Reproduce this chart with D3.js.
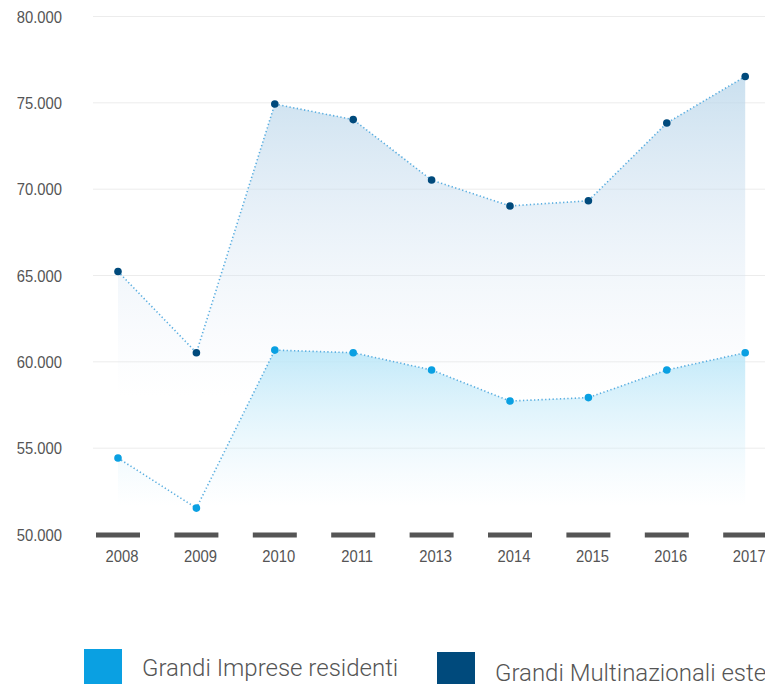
<!DOCTYPE html>
<html>
<head>
<meta charset="utf-8">
<script src="https://cdn.jsdelivr.net/npm/d3@7"></script>
<style>
  body { margin: 0; background: #fff; }
  svg { display: block; font-family: Roboto, "Noto Sans", sans-serif; }
</style>
</head>
<body>
<svg id="chart"></svg>
<script>
var width = 765;
var height = 684;

// data
var years = ["2008", "2009", "2010", "2011", "2013", "2014", "2015", "2016", "2017"];
var residenti = [54400, 51500, 60650, 60500, 59500, 57700, 57900, 59500, 60500];
var multinazionali = [65200, 60500, 74900, 74000, 70500, 69000, 69300, 73800, 76500];
var yTicks = [50000, 55000, 60000, 65000, 70000, 75000, 80000];
var seriesNames = ["Grandi Imprese residenti", "Grandi Multinazionali estere"];
var seriesColors = ["#0aa0e2", "#004a7c"];

var it = d3.formatLocale({ decimal: ",", thousands: ".", grouping: [3], currency: ["€", ""] });
var fmt = it.format(",");

var svg = d3.select("#chart").attr("width", width).attr("height", height);

// band scale runs past the right edge, the last label is cut like in the original
var xScale = d3.scaleBand().domain(years).range([78.8, 784.4]);
var yScale = d3.scaleLinear().domain([50000, 80000]).range([534, 16]);
var xc = (d) => xScale(d) + xScale.bandwidth() / 2;

// no condensed font here, so squeeze Roboto a bit
var squeeze = 0.87;

// gradients
var defs = svg.append("defs");
var g1 = defs.append("linearGradient").attr("id", "gradDark")
  .attr("x1", 0).attr("y1", 0).attr("x2", 0).attr("y2", 1);
g1.append("stop").attr("offset", 0).attr("stop-color", "#b9d6ea").attr("stop-opacity", 0.75);
g1.append("stop").attr("offset", 0.7).attr("stop-color", "#dfe8f6").attr("stop-opacity", 0);
var g2 = defs.append("linearGradient").attr("id", "gradLight")
  .attr("x1", 0).attr("y1", 0).attr("x2", 0).attr("y2", 1);
g2.append("stop").attr("offset", 0).attr("stop-color", "#b8e6f8").attr("stop-opacity", 0.85);
g2.append("stop").attr("offset", 0.85).attr("stop-color", "#d8f0fb").attr("stop-opacity", 0);

// grid + y labels
var yAxis = d3.axisLeft(yScale).tickValues(yTicks).tickFormat(fmt)
  .tickSize(-(width - 93)).tickPadding(31);
var gy = svg.append("g").attr("transform", "translate(93,0)").call(yAxis);
gy.select(".domain").remove();
gy.selectAll(".tick line").attr("stroke", "#ececec").attr("stroke-width", 1);
gy.selectAll(".tick text").attr("fill", "#555").style("font-size", "17px")
  .attr("x", -31 / squeeze).attr("dy", "0.36em")
  .attr("transform", `scale(${squeeze},1)`);
gy.selectAll(".tick").filter((d) => d === 50000).select("line").remove();

// areas
var area = d3.area().x((d, i) => xc(years[i])).y0(yScale(50000)).y1((d) => yScale(d));
svg.append("path").datum(multinazionali).attr("d", area).attr("fill", "url(#gradDark)");
svg.append("path").datum(residenti).attr("d", area).attr("fill", "url(#gradLight)");

// x axis bars
var xAxis = d3.axisBottom(xScale).tickSize(0).tickPadding(14);
var gx = svg.append("g").attr("transform", "translate(0,535)").call(xAxis);
gx.select(".domain").remove();
gx.selectAll(".tick text").attr("fill", "#555")
  .attr("x", 4 / squeeze).attr("y", 0).attr("dy", 0).attr("transform", `translate(0,27) scale(${squeeze},1)`)
  .style("font-size", "17px");
gx.selectAll(".tick").append("rect")
  .attr("x", -22).attr("y", -2.5).attr("width", 44).attr("height", 5).attr("fill", "#555");

// dotted lines
var line = d3.line().x((d, i) => xc(years[i])).y((d) => yScale(d));
[multinazionali, residenti].forEach(function (s) {
  svg.append("path").datum(s).attr("d", line)
    .attr("fill", "none").attr("stroke", "#5aaee0")
    .attr("stroke-width", 1.6).attr("stroke-dasharray", "1.3,2.4");
});

// points
svg.append("g").selectAll("circle").data(multinazionali).enter().append("circle")
  .attr("cx", (d, i) => xc(years[i])).attr("cy", (d) => yScale(d))
  .attr("r", 3.8).attr("fill", seriesColors[1]);
svg.append("g").selectAll("circle").data(residenti).enter().append("circle")
  .attr("cx", (d, i) => xc(years[i])).attr("cy", (d) => yScale(d))
  .attr("r", 3.8).attr("fill", seriesColors[0]);

// legend
var legendPos = [{ x: 84, y: 649, tx: 142, ty: 676 }, { x: 437, y: 652, tx: 495, ty: 681 }];
seriesNames.forEach(function (name, i) {
  var p = legendPos[i];
  svg.append("rect").attr("x", p.x).attr("y", p.y).attr("width", 38).attr("height", 38)
    .attr("fill", seriesColors[i]);
  svg.append("text").attr("x", p.tx).attr("y", p.ty).attr("fill", "#555")
    .style("font-size", "24px").style("font-weight", 300).text(name);
});
</script>
</body>
</html>
